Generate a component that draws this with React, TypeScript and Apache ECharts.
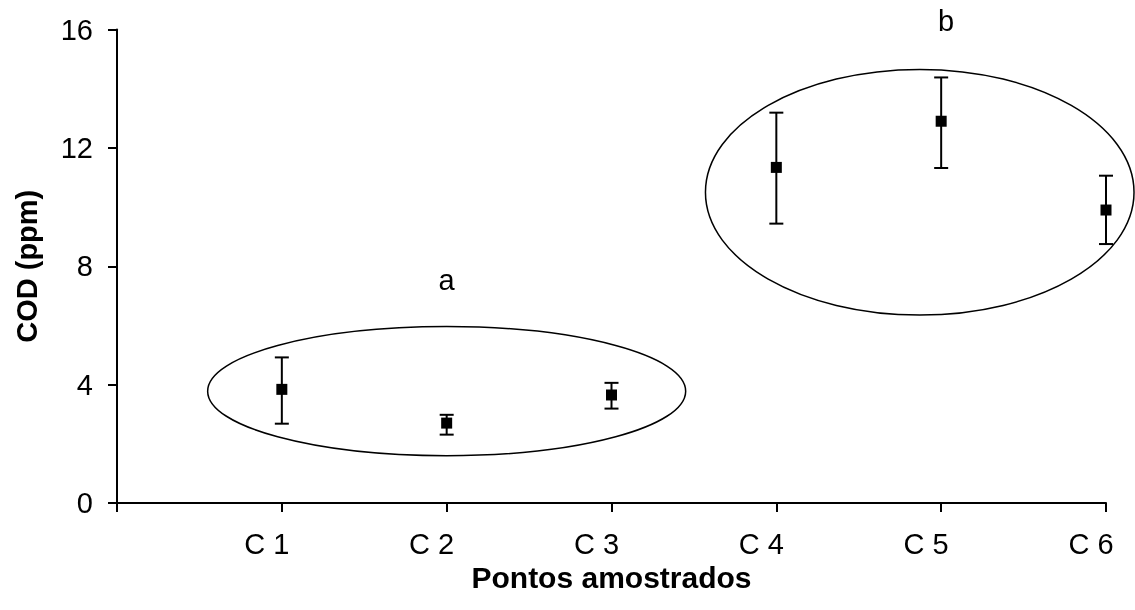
import React, { useEffect, useRef } from "react";
import * as echarts from "echarts";

const categories = ["C 1", "C 2", "C 3", "C 4", "C 5", "C 6"];
const positions = [1, 2, 3, 4, 5, 6];
const means = [3.84, 2.7, 3.65, 11.34, 12.9, 9.9];
const lower = [2.68, 2.31, 3.19, 9.44, 11.32, 8.75];
const upper = [4.92, 2.98, 4.06, 13.19, 14.38, 11.06];

const ellipseCenterX = [2.0, 4.87];
const ellipseCenterY = [3.78, 10.5];
const ellipseRadiusX = [1.45, 1.3];
const ellipseRadiusY = [2.18, 4.15];

const groupLabels = ["a", "b"];
const groupLabelX = [2.0, 5.03];
const groupLabelY = [7.55, 16.3];

const yTicks = [0, 4, 8, 12, 16];

const FONT = "'Liberation Sans', Arial, sans-serif";

export default function App() {
  const ref = useRef<HTMLDivElement>(null);
  useEffect(() => {
    if (!ref.current) return;
    const chart = echarts.init(ref.current, null, { renderer: "svg" });
    const errData = positions.map((p, i) => [p, lower[i], upper[i]]);
    const meanData = positions.map((p, i) => [p, means[i]]);
    const ellData = ellipseCenterX.map((cx, i) => [cx, ellipseCenterY[i], ellipseRadiusX[i], ellipseRadiusY[i]]);
    const lblData = groupLabels.map((t, i) => ({ name: t, value: [groupLabelX[i], groupLabelY[i]] }));
    chart.setOption({
      animation: false,
      grid: { left: 117, right: 29, top: 29.5, bottom: 107, containLabel: false },
      xAxis: {
        type: "value",
        min: 0,
        max: 6,
        interval: 1,
        splitLine: { show: false },
        axisLine: { lineStyle: { color: "#000", width: 2 } },
        axisTick: { show: true, length: 9, lineStyle: { color: "#000", width: 2 } },
        axisLabel: {
          color: "#000",
          fontFamily: FONT,
          fontSize: 29,
          margin: 26,
          padding: [0, 30, 0, 0],
          formatter: (v: number) => (v >= 1 ? categories[Math.round(v) - 1] : ""),
        },
        name: "Pontos amostrados",
        nameLocation: "middle",
        nameGap: 57,
        nameTextStyle: { color: "#000", fontFamily: FONT, fontSize: 30, fontWeight: "bold" },
      },
      yAxis: {
        type: "value",
        min: yTicks[0],
        max: yTicks[yTicks.length - 1],
        interval: 4,
        splitLine: { show: false },
        axisLine: { show: true, lineStyle: { color: "#000", width: 2 } },
        axisTick: { show: true, length: 9, lineStyle: { color: "#000", width: 2 } },
        axisLabel: { color: "#000", fontFamily: FONT, fontSize: 29, margin: 24 },
        name: "COD (ppm)",
        nameLocation: "middle",
        nameGap: 76,
        nameTextStyle: { color: "#000", fontFamily: FONT, fontSize: 29, fontWeight: "bold" },
      },
      series: [
        {
          type: "custom",
          clip: false,
          data: ellData,
          encode: { x: 0, y: 1 },
          renderItem: (params: any, api: any) => {
            const c = api.coord([api.value(0), api.value(1)]);
            const rx = api.size([api.value(2), 0])[0];
            const ry = api.size([0, api.value(3)])[1];
            return {
              type: "ellipse",
              shape: { cx: c[0], cy: c[1], rx, ry },
              style: { fill: "none", stroke: "#000", lineWidth: 1.5 },
            };
          },
        },
        {
          type: "custom",
          clip: false,
          data: errData,
          encode: { x: 0, y: [1, 2] },
          renderItem: (params: any, api: any) => {
            const x = api.value(0);
            const lo = api.coord([x, api.value(1)]);
            const hi = api.coord([x, api.value(2)]);
            const hw = 7;
            const st = { stroke: "#000", lineWidth: 2 };
            return {
              type: "group",
              children: [
                { type: "line", shape: { x1: lo[0], y1: lo[1], x2: hi[0], y2: hi[1] }, style: st },
                { type: "line", shape: { x1: hi[0] - hw, y1: hi[1], x2: hi[0] + hw, y2: hi[1] }, style: st },
                { type: "line", shape: { x1: lo[0] - hw, y1: lo[1], x2: lo[0] + hw, y2: lo[1] }, style: st },
              ],
            };
          },
        },
        {
          type: "scatter",
          data: meanData,
          symbol: "rect",
          symbolSize: 11,
          itemStyle: { color: "#000", opacity: 1 },
          clip: false,
        },
        {
          type: "scatter",
          data: lblData,
          symbolSize: 0,
          clip: false,
          itemStyle: { opacity: 1 },
          label: {
            show: true,
            position: "inside",
            formatter: (p: any) => p.name,
            color: "#000",
            opacity: 1,
            fontFamily: FONT,
            fontSize: 29,
          },
        },
      ],
    });
    return () => chart.dispose();
  }, []);
  return <div ref={ref} style={{ position: "fixed", left: 0, top: 0, width: 1135, height: 610 }} />;
}
